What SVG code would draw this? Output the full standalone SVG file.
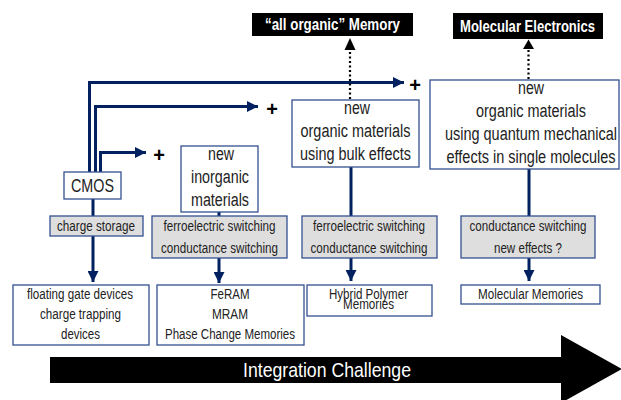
<svg xmlns="http://www.w3.org/2000/svg" width="621" height="400" viewBox="0 0 621 400">
<defs>
<style>
text{font-family:"Liberation Sans",Arial,sans-serif;text-anchor:middle;fill:#222}
.big{font-size:18px}
.sm{font-size:14px}
.ttl{font-size:16px;font-weight:bold;fill:#fff}
.box{fill:#fff;stroke:#34508f;stroke-width:1.3}
.gray{fill:#dedede;stroke:#34508f;stroke-width:1.3}
.blk{fill:#000}
.conn{fill:none;stroke:#002060;stroke-width:3}
.dot{fill:none;stroke:#000;stroke-width:2.2;stroke-dasharray:2 2.5}
.plus{font-size:20px;font-weight:bold;fill:#000}
</style>
<marker id="ah" viewBox="0 0 10 10" refX="10" refY="5" markerWidth="11" markerHeight="11" markerUnits="userSpaceOnUse" orient="auto"><path d="M0,0 L10,5 L0,10 Z" fill="#002060"/></marker>
</defs>

<g id="connectors">
<path class="conn" d="M89.5,173 V82.5 H404" marker-end="url(#ah)"/>
<path class="conn" d="M95.5,173 V106.5 H258" marker-end="url(#ah)"/>
<path class="conn" d="M100.5,173 V152.5 H146" marker-end="url(#ah)"/>
<path class="conn" d="M93,199 V216"/>
<path class="conn" d="M93,236 V282" marker-end="url(#ah)"/>
<path class="conn" d="M219,212 V216"/>
<path class="conn" d="M219,258 V283" marker-end="url(#ah)"/>
<path class="conn" d="M351,167 V216"/>
<path class="conn" d="M351,258 V281" marker-end="url(#ah)"/>
<path class="conn" d="M529,169 V216"/>
<path class="conn" d="M529,258 V281" marker-end="url(#ah)"/>
<path class="dot" d="M350,99 V50"/>
<path d="M344.5,50 L350,38 L355.5,50 Z" fill="#000"/>
<path class="dot" d="M528.5,79 V49"/>
<path d="M523,49 L528.5,39.5 L534,49 Z" fill="#000"/>
</g>

<g id="plus-signs">
<text class="plus" x="159" y="162">+</text>
<text class="plus" x="272" y="116">+</text>
<text class="plus" x="415" y="92">+</text>
</g>

<g id="all-organic-memory">
<rect class="blk" x="252" y="13" width="161" height="23"/>
<text class="ttl" x="332.5" y="30" textLength="135" lengthAdjust="spacingAndGlyphs">“all organic”  Memory</text>
</g>

<g id="molecular-electronics">
<rect class="blk" x="453" y="13" width="150" height="26"/>
<text class="ttl" x="527.5" y="32" textLength="135" lengthAdjust="spacingAndGlyphs">Molecular Electronics</text>
</g>

<g id="cmos">
<rect class="box" x="64" y="172" width="57" height="27"/>
<text class="big" x="92.5" y="192" textLength="43" lengthAdjust="spacingAndGlyphs">CMOS</text>
</g>

<g id="new-inorganic">
<rect class="box" x="181" y="146" width="77" height="66"/>
<text class="big" x="221" y="160" textLength="26" lengthAdjust="spacingAndGlyphs">new</text>
<text class="big" x="220" y="183" textLength="58" lengthAdjust="spacingAndGlyphs">inorganic</text>
<text class="big" x="220" y="206" textLength="58" lengthAdjust="spacingAndGlyphs">materials</text>
</g>

<g id="new-organic-bulk">
<rect class="box" x="292" y="100" width="127" height="67"/>
<text class="big" x="357" y="114" textLength="26" lengthAdjust="spacingAndGlyphs">new</text>
<text class="big" x="355.5" y="137" textLength="110" lengthAdjust="spacingAndGlyphs">organic materials</text>
<text class="big" x="355.5" y="160" textLength="111" lengthAdjust="spacingAndGlyphs">using bulk effects</text>
</g>

<g id="new-organic-quantum">
<rect class="box" x="430" y="80" width="189" height="89"/>
<text class="big" x="531" y="94" textLength="26" lengthAdjust="spacingAndGlyphs">new</text>
<text class="big" x="531" y="117" textLength="110" lengthAdjust="spacingAndGlyphs">organic materials</text>
<text class="big" x="531" y="140" textLength="172" lengthAdjust="spacingAndGlyphs">using quantum mechanical</text>
<text class="big" x="531" y="163" textLength="169" lengthAdjust="spacingAndGlyphs">effects in single molecules</text>
</g>

<g id="charge-storage">
<rect class="gray" x="50" y="216" width="93" height="20"/>
<text class="sm" x="96" y="231" textLength="78" lengthAdjust="spacingAndGlyphs">charge storage</text>
</g>

<g id="switching-1">
<rect class="gray" x="152" y="216" width="135" height="42"/>
<text class="sm" x="219.5" y="231" textLength="112" lengthAdjust="spacingAndGlyphs">ferroelectric switching</text>
<text class="sm" x="219.5" y="253" textLength="117" lengthAdjust="spacingAndGlyphs">conductance switching</text>
</g>

<g id="switching-2">
<rect class="gray" x="302" y="216" width="135" height="42"/>
<text class="sm" x="369" y="231" textLength="112" lengthAdjust="spacingAndGlyphs">ferroelectric switching</text>
<text class="sm" x="369" y="253" textLength="117" lengthAdjust="spacingAndGlyphs">conductance switching</text>
</g>

<g id="switching-3">
<rect class="gray" x="461" y="216" width="134" height="42"/>
<text class="sm" x="528" y="231" textLength="117" lengthAdjust="spacingAndGlyphs">conductance switching</text>
<text class="sm" x="528" y="253" textLength="68" lengthAdjust="spacingAndGlyphs">new effects ?</text>
</g>

<g id="floating-gate">
<rect class="box" x="13" y="285" width="136" height="60"/>
<text class="sm" x="80" y="299" textLength="106" lengthAdjust="spacingAndGlyphs">floating gate devices</text>
<text class="sm" x="80.5" y="319" textLength="81" lengthAdjust="spacingAndGlyphs">charge trapping</text>
<text class="sm" x="80.5" y="339" textLength="39" lengthAdjust="spacingAndGlyphs">devices</text>
</g>

<g id="feram">
<rect class="box" x="157" y="285" width="147" height="60"/>
<text class="sm" x="230" y="299" textLength="39" lengthAdjust="spacingAndGlyphs">FeRAM</text>
<text class="sm" x="230" y="319" textLength="36" lengthAdjust="spacingAndGlyphs">MRAM</text>
<text class="sm" x="230" y="339" textLength="130" lengthAdjust="spacingAndGlyphs">Phase Change Memories</text>
</g>

<g id="hybrid-polymer">
<rect class="box" x="307" y="285" width="125" height="31"/>
<text class="sm" x="368.5" y="299" textLength="79" lengthAdjust="spacingAndGlyphs">Hybrid Polymer</text>
<text class="sm" x="368.5" y="309" textLength="51" lengthAdjust="spacingAndGlyphs">Memories</text>
</g>

<g id="molecular-memories">
<rect class="box" x="461" y="285" width="139" height="19"/>
<text class="sm" x="530.5" y="299" textLength="105" lengthAdjust="spacingAndGlyphs">Molecular Memories</text>
</g>

<g id="integration-challenge">
<path class="blk" d="M50,357 H561 V335 L622,369 L561,403 V383 H50 Z"/>
<text x="327" y="377" style="font-size:21px;fill:#fff" textLength="168" lengthAdjust="spacingAndGlyphs">Integration Challenge</text>
</g>
</svg>
